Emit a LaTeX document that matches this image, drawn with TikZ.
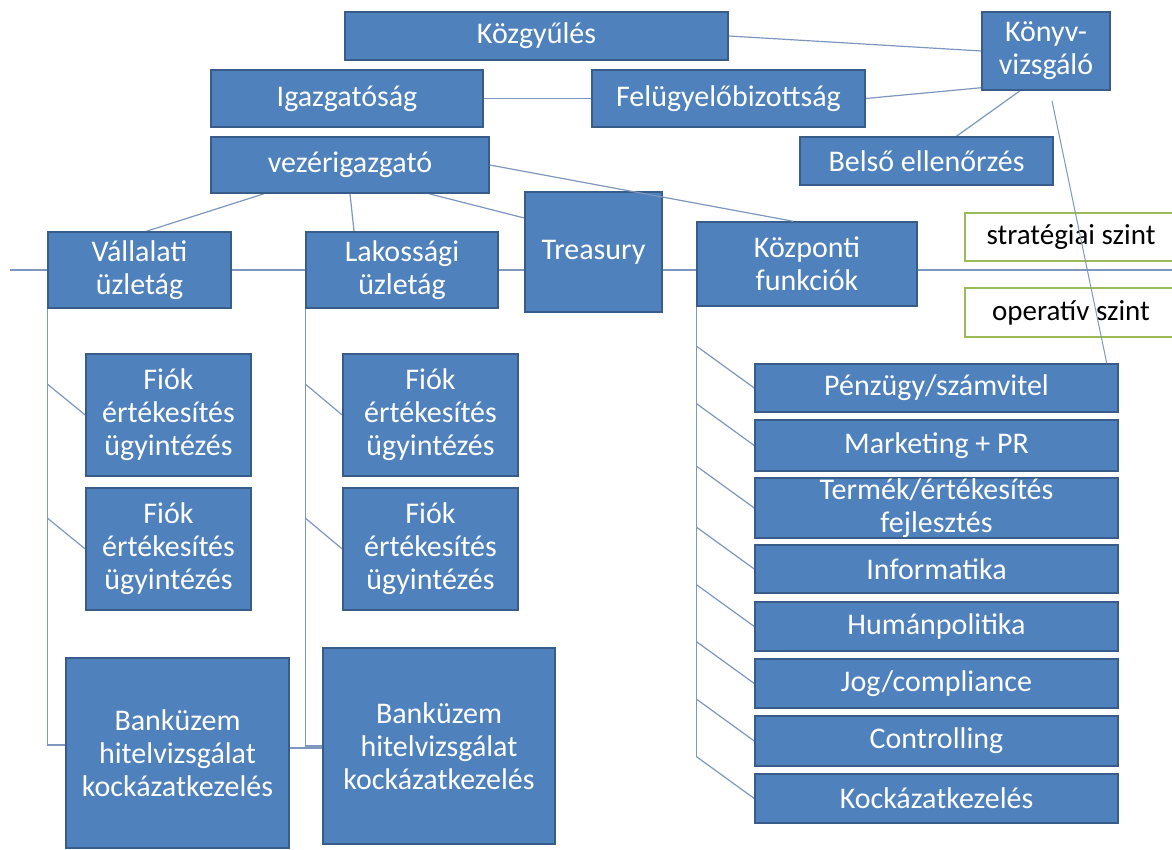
\documentclass[tikz,border=0pt]{standalone}
\usepackage{fontspec}
\setmainfont{Carlito}
\usetikzlibrary{backgrounds,calc}
\definecolor{boxblue}{HTML}{4F81BD}
\definecolor{boxedge}{HTML}{385D8A}
\definecolor{lvlgreen}{HTML}{9BBB59}
\definecolor{conn}{HTML}{7F97BF}
\begin{document}
\begin{tikzpicture}[x=1pt,y=-1pt,
  bx/.style={draw=boxedge, line width=1.5pt, fill=boxblue, text=white, align=center,
    inner sep=0pt, font=\fontsize{30}{33}\selectfont},
  lvl/.style={draw=lvlgreen, line width=2pt, fill=white, text=black, align=center,
    inner sep=0pt, font=\fontsize{29}{33}\selectfont},
  conline/.style={draw=conn, line width=1.2pt}]
\useasboundingbox (0,0) rectangle (1172,850);
\clip (0,0) rectangle (1172,850);
% top level
\node[bx, minimum width=383pt, minimum height=48pt] (kozgy) at (536.5,36) {Közgyűlés};
\node[bx, minimum width=272pt, minimum height=57pt] (igaz) at (347,98.5) {Igazgatóság};
\node[bx, minimum width=273pt, minimum height=57pt] (felugy) at (728.5,98.5) {Felügyelőbizottság};
\node[bx, minimum width=128pt, minimum height=78pt] (konyv) at (1046,51) {Könyv-\\vizsgáló};
\node[bx, minimum width=253pt, minimum height=48pt] (belso) at (926.5,161) {Belső ellenőrzés};
\node[bx, minimum width=278pt, minimum height=56pt] (vez) at (350,165) {vezérigazgató};
% second level
\node[bx, minimum width=183pt, minimum height=76pt] (vall) at (139.5,270) {Vállalati\\üzletág};
\node[bx, minimum width=192pt, minimum height=76pt] (lak) at (402,270) {Lakossági\\üzletág};
\node[bx, minimum width=137pt, minimum height=120pt] (treas) at (593.5,252) {Treasury};
\node[bx, minimum width=220pt, minimum height=84pt] (kozp) at (807,264) {Központi\\funkciók};
% level labels
\node[lvl, minimum width=212pt, minimum height=48pt] (strat) at (1071,237) {stratégiai szint};
\node[lvl, minimum width=212pt, minimum height=49pt] (oper) at (1071,312.5) {operatív szint};
% branches
\node[bx, minimum width=165pt, minimum height=122pt] (fiokL1) at (168.5,415) {Fiók\\értékesítés\\ügyintézés};
\node[bx, minimum width=165pt, minimum height=122pt] (fiokL2) at (168.5,549) {Fiók\\értékesítés\\ügyintézés};
\node[bx, minimum width=175pt, minimum height=122pt] (fiokR1) at (430.5,415) {Fiók\\értékesítés\\ügyintézés};
\node[bx, minimum width=175pt, minimum height=122pt] (fiokR2) at (430.5,549) {Fiók\\értékesítés\\ügyintézés};
\node[bx, minimum width=223pt, minimum height=190pt] (banL) at (177.5,753) {Banküzem\\hitelvizsgálat\\kockázatkezelés};
\node[bx, minimum width=232pt, minimum height=196pt] (banR) at (439,746) {Banküzem\\hitelvizsgálat\\kockázatkezelés};
% central functions
\node[bx, minimum width=363pt, minimum height=48pt] (penz) at (936.5,388) {Pénzügy/számvitel};
\node[bx, minimum width=363pt, minimum height=51pt] (mark) at (936.5,445.5) {Marketing + PR};
\node[bx, minimum width=363pt, minimum height=60pt, text height=0pt] (term) at (936.5,508) {};
\node[text=white, align=center, font=\fontsize{30}{33}\selectfont, inner sep=0pt] (termtxt) at (term.center) {Termék/értékesítés\\fejlesztés};
\node[bx, minimum width=363pt, minimum height=48pt] (info) at (936.5,569) {Informatika};
\node[bx, minimum width=363pt, minimum height=49pt] (hum) at (936.5,626.5) {Humánpolitika};
\node[bx, minimum width=363pt, minimum height=49pt] (jog) at (936.5,683.5) {Jog/compliance};
\node[bx, minimum width=363pt, minimum height=50pt] (ctrl) at (936.5,741) {Controlling};
\node[bx, minimum width=363pt, minimum height=49pt] (kock) at (936.5,798.5) {Kockázatkezelés};
% connectors drawn over boxes
\draw[conline] (vez.east) -- ([xshift=-14pt]kozp.north);
\draw[conline, line width=1pt] ([xshift=6pt,yshift=-10pt]konyv.south) -- ([xshift=-12pt]penz.north east);
% connectors behind boxes
\begin{scope}[on background layer]
\fill[white] (0,0) rectangle (1172,850);
\coordinate (hl) at (10,270);
\coordinate (hr) at (1180,270);
\draw[conline] (hl) -- (hr);
\draw[conline] (kozgy.east) -- (konyv.west);
\draw[conline] (felugy.east) -- ([yshift=3pt]konyv.south west);
\draw[conline] (igaz.east) -- (felugy.west);
\draw[conline] ([xshift=-26pt]konyv.south) -- ([xshift=30pt]belso.north);
\draw[conline] ([xshift=-86pt]vez.south) -- ([xshift=7pt]vall.north);
\draw[conline] (vez.south) -- ([xshift=-48pt]lak.north);
\draw[conline] ([xshift=79pt]vez.south) -- ([yshift=34pt]treas.west);
\draw[conline] (vall.south west) |- ([yshift=8pt]banL.west);
\draw[conline] (lak.south west) |- (banR.west);
\draw[conline] ([yshift=5pt]banL.east) -- ([yshift=-2pt]banR.west);
\foreach \b in {fiokL1,fiokL2} {
  \draw[conline] ($(\b.west)+(-38,-31)$) -- (\b.west);
}
\foreach \b in {fiokR1,fiokR2} {
  \draw[conline] ($(\b.west)+(-37,-31)$) -- (\b.west);
}
\draw[conline] (kozp.south west) -- ($(kock.west)+(-58,-42)$);
\foreach \b in {penz,mark,term,info,hum,jog,ctrl,kock} {
  \draw[conline] ($(\b.west)+(-58,-42)$) -- (\b.west);
}
\end{scope}
\end{tikzpicture}
\end{document}
